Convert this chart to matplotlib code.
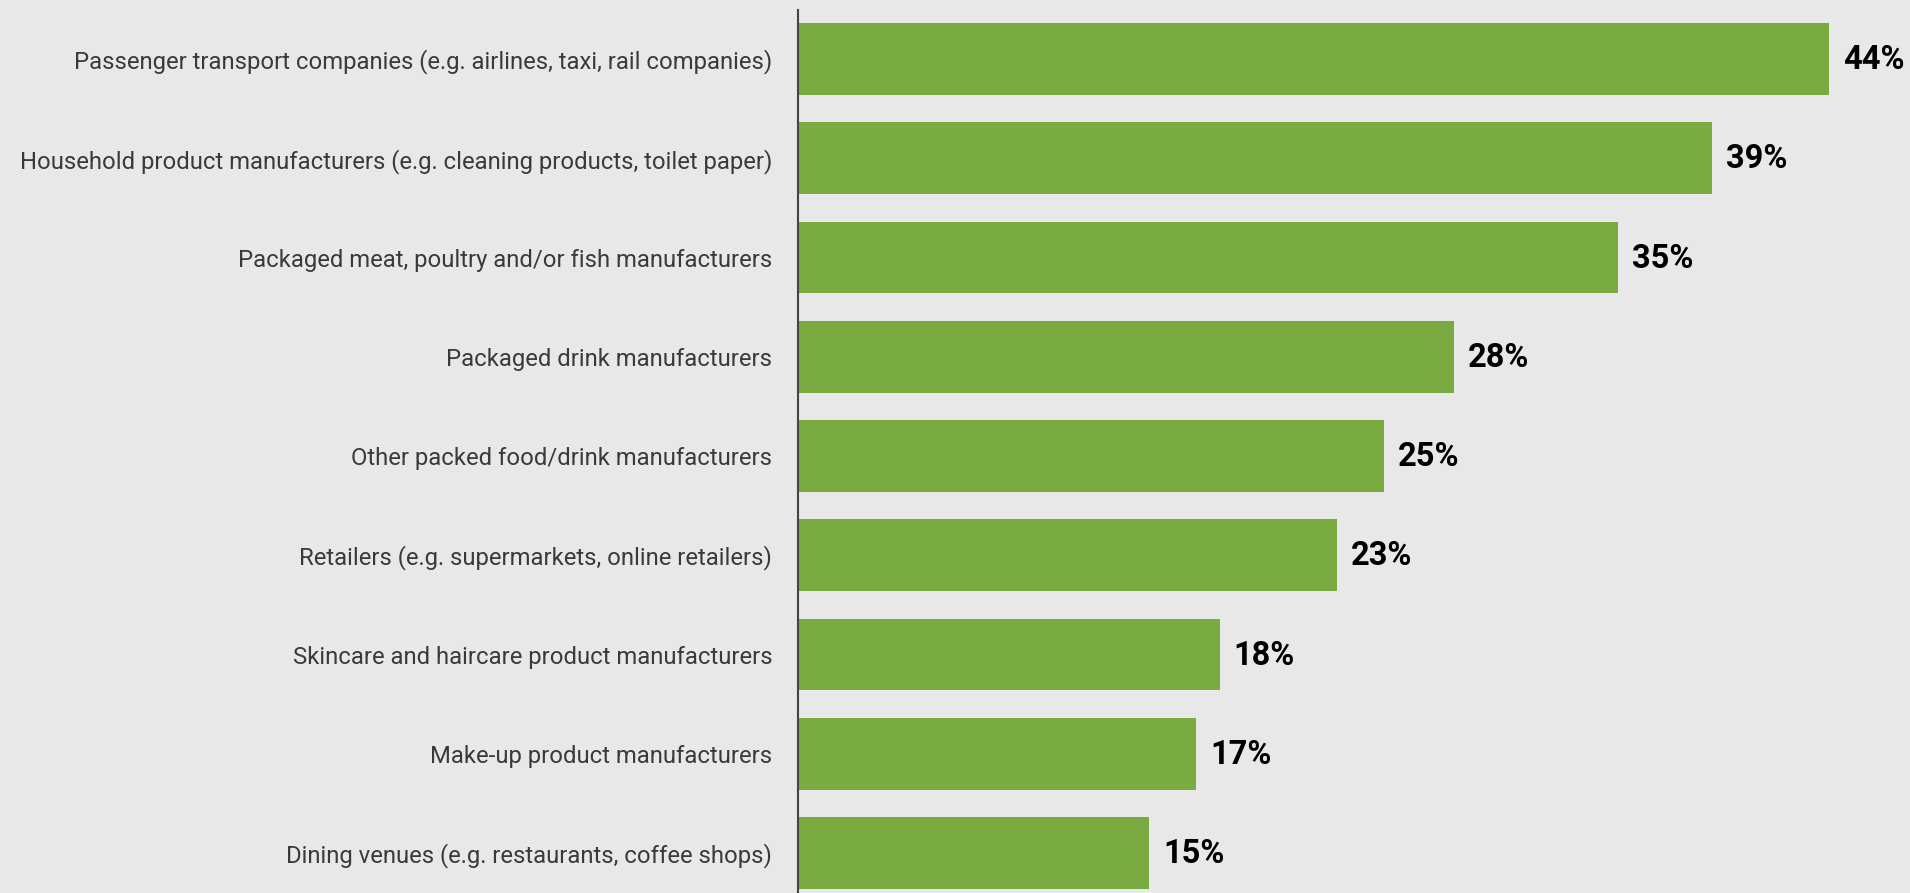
import matplotlib
matplotlib.use("Agg")
import matplotlib.pyplot as plt
import numpy as np

# Share of respondents per sector
categories = [
    "Passenger transport companies (e.g. airlines, taxi, rail companies)",
    "Household product manufacturers (e.g. cleaning products, toilet paper)",
    "Packaged meat, poultry and/or fish manufacturers",
    "Packaged drink manufacturers",
    "Other packed food/drink manufacturers",
    "Retailers (e.g. supermarkets, online retailers)",
    "Skincare and haircare product manufacturers",
    "Make-up product manufacturers",
    "Dining venues (e.g. restaurants, coffee shops)",
]
values = [44, 39, 35, 28, 25, 23, 18, 17, 15]

BG = "#e8e8e8"
BAR = "#7aab40"

W, H = 1910, 893
fig = plt.figure(figsize=(W / 100, H / 100), dpi=100, facecolor=BG)

left_px = 798
ax = fig.add_axes([left_px / W, 0, 1 - left_px / W, (H - 10) / H])
ax.set_facecolor(BG)

y = np.arange(len(categories))
ax.barh(y, values, height=0.725, color=BAR, zorder=2)

px_per_unit = (1829 - left_px) / 44
ax.set_xlim(0, (W - left_px) / px_per_unit)
ax.set_ylim(8.403, -0.494)

for yi, v in zip(y, values):
    ax.text(v + 14 / px_per_unit, yi + 0.01, f"{v}%", ha="left", va="center",
            fontsize=23.5, fontweight="bold", family="Roboto", color="black")

ax.set_yticks(y)
ax.set_yticklabels(categories, fontsize=17.2, family="Roboto",
                   fontweight="normal", color="#3a3a3a")
ax.tick_params(axis="y", length=0, pad=18.5)
ax.set_xticks([])

for side in ["top", "right", "bottom"]:
    ax.spines[side].set_visible(False)
ax.spines["left"].set_color("#444444")
ax.spines["left"].set_linewidth(1.5)

fig.savefig("out.png", dpi=100, facecolor=BG)
